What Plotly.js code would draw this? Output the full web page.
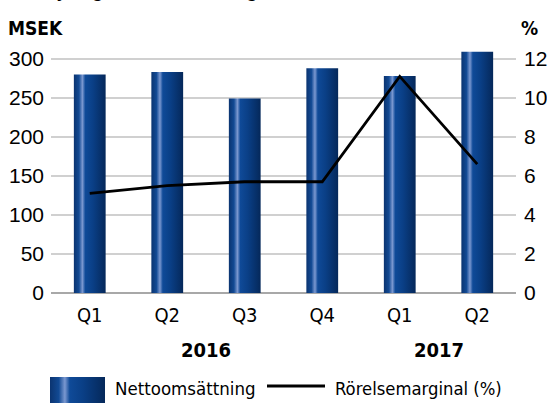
<!DOCTYPE html>
<html>
<head>
<meta charset="utf-8">
<script src="https://cdn.plot.ly/plotly-3.0.1.min.js"></script>
<style>html,body{margin:0;padding:0;background:#fff;}#chart{width:547px;height:403px;}</style>
</head>
<body>
<div id="chart"></div>
<script>
var years = ["2016", "2016", "2016", "2016", "2017", "2017"];
var quarters = ["Q1", "Q2", "Q3", "Q4", "Q1", "Q2"];
var nettoomsattning = [280, 283, 249, 288, 278, 309];
var rorelsemarginal = [5.1, 5.5, 5.7, 5.7, 11.1, 6.6];
var barName = "Nettoomsättning";
var lineName = "Rörelsemarginal (%)";
var leftTitle = "MSEK";
var rightTitle = "%";
var chartTitle = "Försäljning och rörelsemarginal";

var idx = quarters.map(function (q, i) { return i; });
var BAR = "rgb(11,61,130)";
var narrow = "DejaVu Sans Condensed, Liberation Sans Narrow, sans-serif";
var sans = "Liberation Sans, Arial, sans-serif";

// pixel helpers for paper coordinates (plot area 51..516 x 51..293)
var PL = 51, PW = 465, PB = 293, PH = 242;
function px(x) { return (x - PL) / PW; }
function py(y) { return (PB - y) / PH; }

var yearAnns = [];
var seen = {};
years.forEach(function (y, i) {
  if (!seen[y]) { seen[y] = []; }
  seen[y].push(i);
});
Object.keys(seen).forEach(function (y) {
  var ii = seen[y];
  var mid = (ii[0] + ii[ii.length - 1]) / 2;
  yearAnns.push({
    x: mid, xref: "x", y: py(350), yref: "paper", yanchor: "middle",
    text: "<b>" + y + "</b>", showarrow: false,
    font: {family: narrow, size: 20, color: "#000"}
  });
});

var traces = [
  {
    type: "bar", x: idx, y: nettoomsattning, name: barName,
    marker: {color: BAR, line: {width: 0}}, width: 0.41,
    showlegend: false, hoverinfo: "y"
  },
  {
    type: "scatter", mode: "lines", x: idx, y: rorelsemarginal, name: lineName,
    yaxis: "y2", line: {color: "#000", width: 2.8}, showlegend: false
  }
];

var layout = {
  width: 547, height: 403,
  margin: {l: PL, r: 547 - PL - PW, t: PB - PH, b: 403 - PB},
  paper_bgcolor: "#fff", plot_bgcolor: "#fff",
  showlegend: false,
  xaxis: {
    range: [-0.5, 5.5], tickmode: "array", tickvals: idx, ticktext: quarters,
    showgrid: false, zeroline: false, showline: false, ticks: "",
    tickfont: {family: narrow, size: 20, color: "#000"}, ticklabelstandoff: 8
  },
  yaxis: {
    range: [0, 310], tickvals: [0, 50, 100, 150, 200, 250, 300],
    showgrid: true, gridcolor: "#d0d0d0", gridwidth: 1.5,
    zeroline: true, zerolinecolor: "#a8a8a8", zerolinewidth: 2.5,
    showline: false, ticks: "", tickfont: {family: sans, size: 21, color: "#000"},
    ticklabelstandoff: 6
  },
  yaxis2: {
    range: [0, 12.4], tickvals: [0, 2, 4, 6, 8, 10, 12], overlaying: "y", side: "right",
    showgrid: false, zeroline: false, showline: false, ticks: "",
    tickfont: {family: sans, size: 21, color: "#000"}, ticklabelstandoff: 7
  },
  shapes: [
    {type: "rect", xref: "paper", yref: "paper",
     x0: px(50), x1: px(105), y0: py(410), y1: py(377),
     fillcolor: BAR, line: {width: 0}},
    {type: "line", xref: "paper", yref: "paper",
     x0: px(267), x1: px(325), y0: py(386), y1: py(386),
     line: {color: "#000", width: 2.8}}
  ],
  annotations: yearAnns.concat([
    {xref: "paper", yref: "paper", x: px(113), y: py(388),
     xanchor: "left", yanchor: "middle", showarrow: false, text: barName,
     font: {family: narrow, size: 18.5, color: "#000"}},
    {xref: "paper", yref: "paper", x: px(333), y: py(388),
     xanchor: "left", yanchor: "middle", showarrow: false, text: lineName,
     font: {family: narrow, size: 18.3, color: "#000"}},
    {xref: "paper", yref: "paper", x: px(6), y: py(28),
     xanchor: "left", yanchor: "middle", showarrow: false, text: "<b>" + leftTitle + "</b>",
     font: {family: narrow, size: 19, color: "#000"}},
    {xref: "paper", yref: "paper", x: px(540), y: py(28),
     xanchor: "right", yanchor: "middle", showarrow: false, text: "<b>" + rightTitle + "</b>",
     font: {family: narrow, size: 19, color: "#000"}},
    {xref: "paper", yref: "paper", x: px(-1), y: py(-10),
     xanchor: "left", yanchor: "middle", showarrow: false, text: "<b>" + chartTitle + "</b>",
     font: {family: sans, size: 19, color: "#000"}}
  ])
};

Plotly.newPlot("chart", traces, layout, {staticPlot: true}).then(function (gd) {
  var svg = gd.querySelector(".main-svg");
  var ns = "http://www.w3.org/2000/svg";
  var defs = document.createElementNS(ns, "defs");
  var grad = document.createElementNS(ns, "linearGradient");
  grad.setAttribute("id", "cylGrad");
  grad.setAttribute("x1", "0"); grad.setAttribute("y1", "0");
  grad.setAttribute("x2", "1"); grad.setAttribute("y2", "0");
  var stops = [
    [0, "#0b3470"], [0.16, "#124a94"], [0.27, "#7b98d0"], [0.36, "#0f4a98"],
    [0.6, "#0a3f86"], [1, "#05285a"]
  ];
  stops.forEach(function (s) {
    var st = document.createElementNS(ns, "stop");
    st.setAttribute("offset", s[0]);
    st.setAttribute("stop-color", s[1]);
    grad.appendChild(st);
  });
  defs.appendChild(grad);
  svg.insertBefore(defs, svg.firstChild);
  gd.querySelectorAll("path").forEach(function (p) {
    var f = p.style.fill;
    if (f && f.replace(/\s/g, "") === "rgb(11,61,130)") {
      p.style.fill = "url(#cylGrad)";
    }
  });
});
</script>
</body>
</html>
